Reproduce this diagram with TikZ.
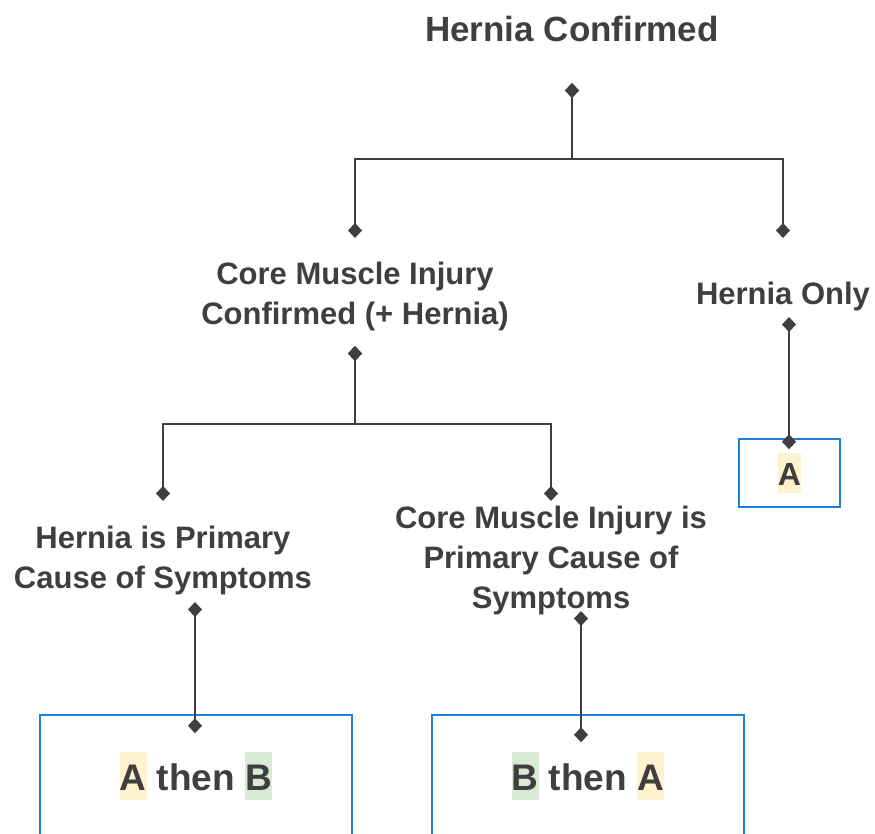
\documentclass[tikz,border=0pt]{standalone}
\usepackage{fontspec}
\setmainfont{Liberation Sans}
\usetikzlibrary{arrows.meta,calc}
\definecolor{ink}{HTML}{3F3F3F}
\definecolor{boxblue}{HTML}{1F80D8}
\definecolor{hly}{HTML}{FFF2CF}
\definecolor{hlg}{HTML}{D9EBD4}
\def\hl#1#2{{\setlength{\fboxsep}{0pt}\colorbox{#1}{\vrule height 1.03em depth .25em width 0pt#2}}}

\begin{document}
\begin{tikzpicture}[x=1pt,y=-1pt,
  txt/.style={text=ink, font=\bfseries\fontsize{31}{40}\selectfont, align=center, inner sep=0pt},
  conn/.style={draw=ink, line width=1.6pt, {Diamond[length=15pt,width=14pt]}-{Diamond[length=15pt,width=14pt]}},
  outcome/.style={draw=boxblue, line width=1.5pt, text=ink, font=\bfseries\fontsize{37}{44}\selectfont}]
\useasboundingbox (0,0) rectangle (875,833);
\clip (0,0) rectangle (875,833);

\node[txt, font=\bfseries\fontsize{35}{42}\selectfont] (title) at (572,29) {Hernia Confirmed};
\node[txt] (cmi) at (355,296) {Core Muscle Injury\\Confirmed (+ Hernia)};
\node[txt] (honly) at (783,296) {Hernia Only};
\node[txt] (hprim) at (163,560) {Hernia is Primary\\Cause of Symptoms};
\node[txt] (cprim) at (551,560) {Core Muscle Injury is\\Primary Cause of\\Symptoms};

\node[outcome, minimum width=101pt, minimum height=68pt, inner sep=0pt,
  font=\bfseries\fontsize{32}{38}\selectfont] (boxA) at (789.5,473) {\hl{hly}{A}};
\node[outcome, minimum width=312pt, minimum height=122pt] (boxAB) at (196,776) {\hl{hly}{A} then \hl{hlg}{B}};
\node[outcome, minimum width=312pt, minimum height=122pt] (boxBA) at (588,776) {\hl{hlg}{B} then \hl{hly}{A}};

\draw[conn] ($(title)+(0,54)$) -- ++(0,76) -| ($(cmi)+(0,-58)$);
\draw[conn] ($(title)+(0,54)$) -- ++(0,76) -| ($(honly)+(0,-58)$);
\draw[conn] ($(cmi)+(0,50)$) -- ++(0,78) -| ($(hprim)+(0,-59)$);
\draw[conn] ($(cmi)+(0,50)$) -- ++(0,78) -| ($(cprim)+(0,-59)$);
\draw[conn] ($(honly)+(6,21)$) -- ($(boxA.north)+(-0.5,11)$);
\draw[conn] ($(hprim)+(32,42)$) -- ($(boxAB.north)+(-1,19)$);
\draw[conn] ($(cprim)+(30,51)$) -- ($(boxBA.north)+(-7,28)$);
\end{tikzpicture}
\end{document}
